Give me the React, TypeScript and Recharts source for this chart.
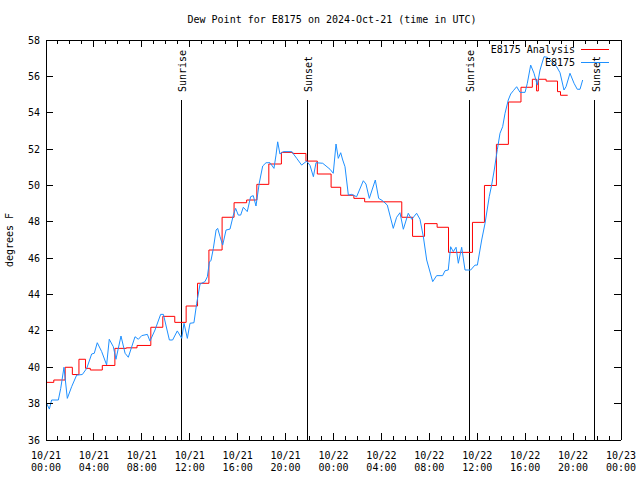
import React from 'react';
import { LineChart, Line, XAxis, YAxis, ReferenceLine, Legend } from 'recharts';

const TITLE = 'Dew Point for E8175 on 2024-Oct-21 (time in UTC)';
const Y_LABEL = 'degrees F';
const Y_TICKS = [36, 38, 40, 42, 44, 46, 48, 50, 52, 54, 56, 58];
const X_MAJOR = [0, 4, 8, 12, 16, 20, 24, 28, 32, 36, 40, 44, 48];
const X_DATES = ['10/21', '10/21', '10/21', '10/21', '10/21', '10/21', '10/22', '10/22', '10/22', '10/22', '10/22', '10/22', '10/23'];
const X_HOURS = ['00:00', '04:00', '08:00', '12:00', '16:00', '20:00', '00:00', '04:00', '08:00', '12:00', '16:00', '20:00', '00:00'];
const X_MINOR_PER_MAJOR = 4;

const SUN_TIMES = [11.3, 21.8, 35.33, 45.8];
const SUN_LABELS = ['Sunrise', 'Sunset', 'Sunrise', 'Sunset'];
const SUN_LINE_TOP = 54.7;

const ANALYSIS_NAME = 'E8175 Analysis';
const OBS_NAME = 'E8175';
const LEGEND_ORDER = [ANALYSIS_NAME, OBS_NAME];

// hours since 10/21 00:00 UTC
const redTimes = [0, 0.65, 1.6, 2.2, 2.75, 3.3, 3.7, 4.7, 5.75, 6.7, 7.6, 8.75, 9.75, 10.75, 11.7, 12.65, 13.6, 14.7, 15.7, 16.75, 17.6, 18.6, 19.65, 20.6, 21.7, 22.65, 23.8, 24.6, 25.7, 26.6, 29.7, 30.6, 31.6, 32.65, 33.6, 35.6, 36.6, 37.6, 38.6, 39.65, 40.6, 40.95, 41.1, 41.75, 42.7, 42.95, 43.55];
const redValues = [39.17, 39.3, 40.0, 39.6, 40.44, 39.94, 39.85, 40.1, 41.04, 41.07, 41.2, 42.2, 42.8, 42.47, 43.37, 44.62, 46.45, 48.25, 49.05, 49.2, 50.06, 51.18, 51.82, 51.76, 51.34, 50.63, 49.9, 49.46, 49.29, 49.1, 48.25, 47.2, 47.9, 47.7, 46.32, 47.97, 50.0, 52.26, 54.59, 55.4, 55.84, 55.2, 55.84, 55.74, 55.16, 54.96, 54.96];

const blueTimes = [0.05, 0.28, 0.47, 1.03, 1.23, 1.5, 1.78, 2.14, 2.56, 3.03, 3.4, 3.81, 4.03, 4.28, 4.65, 5.06, 5.28, 5.62, 5.84, 6.26, 6.6, 6.87, 7.43, 7.71, 7.99, 8.46, 8.68, 9.1, 9.57, 9.8, 10.3, 10.57, 10.96, 11.33, 11.52, 11.8, 12.02, 12.35, 12.58, 12.86, 13.27, 13.47, 13.64, 13.77, 13.97, 14.2, 14.33, 14.53, 14.75, 15.03, 15.36, 15.64, 15.83, 16.05, 16.25, 16.47, 16.8, 17.08, 17.3, 17.53, 17.8, 18.09, 18.37, 18.7, 19.03, 19.2, 19.34, 19.53, 19.81, 20.51, 20.93, 21.34, 21.76, 22.04, 22.32, 22.54, 23.1, 23.71, 23.98, 24.21, 24.4, 24.6, 24.77, 24.96, 25.24, 25.52, 25.93, 26.49, 26.71, 26.99, 27.49, 27.77, 28.1, 28.49, 28.99, 29.27, 29.55, 29.83, 30.24, 30.53, 30.94, 31.22, 31.5, 31.78, 32.28, 32.61, 33.11, 33.31, 33.58, 33.78, 34.0, 34.23, 34.42, 34.7, 34.98, 35.45, 35.81, 36.01, 36.37, 36.65, 37.0, 37.2, 37.42, 37.68, 37.9, 38.12, 38.32, 38.59, 38.79, 39.01, 39.29, 39.57, 39.99, 40.18, 40.46, 40.74, 41.01, 41.24, 41.57, 41.85, 42.21, 42.63, 42.91, 43.24, 43.41, 43.74, 44.08, 44.35, 44.58, 44.8];
const blueValues = [38.02, 37.7, 38.2, 38.2, 38.84, 40.0, 38.29, 38.93, 39.57, 39.6, 39.94, 40.73, 40.77, 41.35, 40.86, 40.13, 41.54, 41.13, 40.44, 41.72, 40.77, 40.55, 41.68, 41.54, 41.74, 41.81, 41.44, 42.05, 42.91, 42.91, 41.5, 41.5, 42.0, 41.59, 42.42, 41.59, 42.42, 42.45, 43.52, 44.58, 44.71, 44.98, 45.8, 45.86, 46.54, 47.55, 47.64, 47.18, 46.72, 47.55, 47.6, 48.37, 48.74, 48.37, 48.37, 48.8, 48.56, 49.38, 49.44, 48.87, 50.12, 51.07, 51.25, 51.25, 50.94, 51.67, 52.4, 51.73, 51.86, 51.86, 51.49, 51.12, 51.34, 51.1, 50.48, 51.25, 51.22, 50.89, 50.67, 52.28, 51.49, 51.8, 51.4, 51.03, 49.47, 49.51, 49.38, 50.26, 50.08, 49.29, 50.3, 49.29, 49.16, 48.92, 47.64, 48.25, 48.5, 47.59, 48.47, 48.14, 48.47, 48.14, 47.18, 45.9, 44.71, 45.04, 45.04, 45.31, 45.35, 46.63, 46.36, 46.6, 45.72, 46.6, 45.35, 45.35, 45.62, 45.62, 47.0, 47.92, 49.38, 50.02, 50.85, 51.99, 52.87, 53.23, 53.97, 54.7, 55.03, 55.21, 55.43, 55.12, 55.12, 55.62, 56.62, 56.17, 55.52, 56.35, 57.08, 57.05, 56.81, 56.53, 56.2, 55.25, 55.43, 56.17, 55.62, 55.29, 55.29, 55.8];

const redData = redTimes.map((t, i) => ({ t, v: redValues[i] }));
const blueData = blueTimes.map((t, i) => ({ t, v: blueValues[i] }));

const xTicks: number[] = [];
for (let i = 0; i < X_MAJOR.length - 1; i++) {
  for (let k = 0; k < X_MINOR_PER_MAJOR; k++) {
    xTicks.push(X_MAJOR[i] + ((X_MAJOR[i + 1] - X_MAJOR[i]) * k) / X_MINOR_PER_MAJOR);
  }
}
xTicks.push(X_MAJOR[X_MAJOR.length - 1]);

const MONO = '"DejaVu Sans Mono", "Liberation Mono", monospace';

const majorIndex = (v: number) => X_MAJOR.findIndex((m) => Math.abs(m - v) < 1e-6);

const BottomTick = (props: any) => {
  const { x, y, payload } = props;
  const idx = majorIndex(payload.value);
  const major = idx >= 0;
  return (
    <g>
      <line x1={x} x2={x} y1={y} y2={y - (major ? 7 : 4)} stroke="#000" shapeRendering="crispEdges" />
      {major && (
        <text x={x} y={y + 18.5} textAnchor="middle" fontFamily={MONO} fontSize={10} fill="#000">
          {X_DATES[idx]}
        </text>
      )}
      {major && (
        <text x={x} y={y + 30.7} textAnchor="middle" fontFamily={MONO} fontSize={10} fill="#000">
          {X_HOURS[idx]}
        </text>
      )}
    </g>
  );
};

const TopTick = (props: any) => {
  const { x, y, payload } = props;
  const major = majorIndex(payload.value) >= 0;
  return <line x1={x} x2={x} y1={y} y2={y + (major ? 7 : 4)} stroke="#000" shapeRendering="crispEdges" />;
};

const LeftTick = (props: any) => {
  const { x, y, payload } = props;
  return (
    <g>
      <line x1={x} x2={x + 7} y1={y} y2={y} stroke="#000" shapeRendering="crispEdges" />
      <text x={x - 6} y={y + 3.5} textAnchor="end" fontFamily={MONO} fontSize={10} fill="#000">
        {payload.value}
      </text>
    </g>
  );
};

const RightTick = (props: any) => {
  const { x, y } = props;
  return <line x1={x} x2={x - 7} y1={y} y2={y} stroke="#000" shapeRendering="crispEdges" />;
};

const sunLabel = (text: string) => (props: any) => {
  const vb = props.viewBox || {};
  const bx = (vb.x ?? 0) + 5;
  const by = (vb.y ?? 0) - 8;
  return (
    <text x={bx} y={by} transform={`rotate(-90 ${bx} ${by})`} textAnchor="start" fontFamily={MONO} fontSize={10} fill="#000">
      {text}
    </text>
  );
};

const yLabel = (props: any) => {
  const vb = props.viewBox || {};
  const cx = (vb.x ?? 0) + 13;
  const cy = (vb.y ?? 0) + (vb.height ?? 0) / 2;
  return (
    <text x={cx} y={cy} transform={`rotate(-90 ${cx} ${cy})`} textAnchor="middle" fontFamily={MONO} fontSize={10} fill="#000">
      {Y_LABEL}
    </text>
  );
};

const LegendContent = (props: any) => {
  const payload = [...(props.payload || [])].sort(
    (a: any, b: any) => LEGEND_ORDER.indexOf(a.value) - LEGEND_ORDER.indexOf(b.value)
  );
  return (
    <div>
      {payload.map((p: any, i: number) => (
        <div key={i} style={{ display: 'flex', alignItems: 'center', height: 13 }}>
          <div style={{ width: 135, textAlign: 'right', fontFamily: MONO, fontSize: 10, lineHeight: '13px', color: '#000', whiteSpace: 'nowrap' }}>
            {p.value}
          </div>
          <svg width={36} height={13} style={{ display: 'block' }}>
            <line x1={6} x2={34} y1={6.5} y2={6.5} stroke={p.color} strokeWidth={1} shapeRendering="crispEdges" />
          </svg>
        </div>
      ))}
    </div>
  );
};

export default function App() {
  return (
    <div style={{ position: 'absolute', left: 0, top: 0, width: 640, height: 480, background: '#fff' }}>
      <div
        style={{
          position: 'absolute',
          left: 0,
          top: 14,
          width: 664,
          textAlign: 'center',
          fontFamily: MONO,
          fontSize: 10,
          lineHeight: '12px',
          color: '#000',
          whiteSpace: 'nowrap',
        }}
      >
        {TITLE}
      </div>
      <LineChart width={640} height={480} margin={{ top: 0, right: 0, bottom: 0, left: 0 }}>
        <XAxis
          dataKey="t"
          type="number"
          domain={[0, 48]}
          ticks={xTicks}
          interval={0}
          tickSize={0}
          tickMargin={0}
          tickLine={false}
          tick={<BottomTick />}
          height={40}
          axisLine={{ stroke: '#000', shapeRendering: 'crispEdges' }}
          allowDataOverflow
        />
        <XAxis
          xAxisId="top"
          orientation="top"
          dataKey="t"
          type="number"
          domain={[0, 48]}
          ticks={xTicks}
          interval={0}
          tickSize={0}
          tickMargin={0}
          tickLine={false}
          tick={<TopTick />}
          height={40}
          axisLine={{ stroke: '#000', shapeRendering: 'crispEdges' }}
          allowDataOverflow
        />
        <YAxis
          type="number"
          domain={[36, 58]}
          ticks={Y_TICKS}
          interval={0}
          tickSize={0}
          tickMargin={0}
          tickLine={false}
          tick={<LeftTick />}
          width={46}
          axisLine={{ stroke: '#000', shapeRendering: 'crispEdges' }}
          label={yLabel}
          allowDataOverflow
        />
        <YAxis
          yAxisId="right"
          orientation="right"
          type="number"
          domain={[36, 58]}
          ticks={Y_TICKS}
          interval={0}
          tickSize={0}
          tickMargin={0}
          tickLine={false}
          tick={<RightTick />}
          width={19}
          axisLine={{ stroke: '#000', shapeRendering: 'crispEdges' }}
          allowDataOverflow
        />
        {SUN_TIMES.map((t, i) => (
          <ReferenceLine
            key={i}
            segment={[
              { x: t, y: SUN_LINE_TOP },
              { x: t, y: 36 },
            ]}
            stroke="#000"
            strokeWidth={1}
            shapeRendering="crispEdges"
            label={sunLabel(SUN_LABELS[i])}
            ifOverflow="visible"
          />
        ))}
        <Line
          data={redData}
          dataKey="v"
          name={ANALYSIS_NAME}
          type="stepAfter"
          stroke="#ff0000"
          strokeWidth={1}
          dot={false}
          activeDot={false}
          isAnimationActive={false}
        />
        <Line
          data={blueData}
          dataKey="v"
          name={OBS_NAME}
          type="linear"
          stroke="#1e90ff"
          strokeWidth={1}
          dot={false}
          activeDot={false}
          isAnimationActive={false}
        />
        <Legend
          layout="vertical"
          align="center"
          verticalAlign="middle"
          content={<LegendContent />}
          wrapperStyle={{ left: 440, top: 43, width: 180, height: 26 }}
        />
      </LineChart>
    </div>
  );
}
